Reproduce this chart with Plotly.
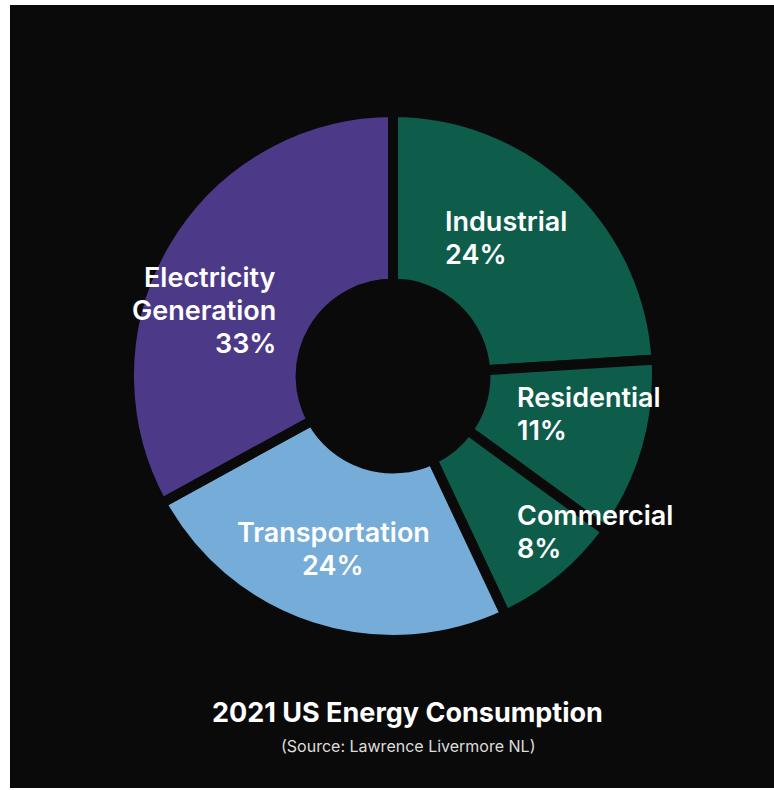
import plotly.graph_objects as go

# ---- data ----
categories = ["Industrial", "Residential", "Commercial", "Transportation", "Electricity Generation"]
shares = [24, 11, 8, 24, 33]
colors = ["#0e5c4a", "#0e5c4a", "#0e5c4a", "#76acd8", "#4c3a89"]
title_text = "2021 US Energy Consumption"
source_text = "(Source: Lawrence Livermore NL)"

W, H = 774, 790
BG = "#0a0a0a"

def px(x):
    return x / W

def py(y):
    return 1 - y / H

# pie geometry (pixels)
cx, cy, R = 393, 376, 264

fig = go.Figure()
fig.add_trace(go.Pie(
    labels=categories,
    values=shares,
    sort=False,
    direction="clockwise",
    rotation=0,
    hole=0.35,
    marker=dict(colors=colors, line=dict(color=BG, width=10)),
    textinfo="none",
    hoverinfo="label+percent",
    showlegend=False,
    domain=dict(x=[px(cx - R), px(cx + R)], y=[py(cy + R), py(cy - R)]),
))

FONT = "Inter, Liberation Sans, sans-serif"
label_font = dict(family=FONT, size=27, color="white", weight=600)
LINE_STEP = 33
CAP_HALF = 8

# label placement (pixels): x, first baseline y, anchor/align
placement = {
    "Industrial": (443, 230, "left"),
    "Residential": (515, 405, "left"),
    "Commercial": (515, 523, "left"),
    "Transportation": (333, 540, "center"),
    "Electricity Generation": (278, 285, "right"),
}

annotations = []
for cat, val in zip(categories, shares):
    x, y0, anc = placement[cat]
    lines = cat.split(" ") + [f"{val}%"]
    for i, line in enumerate(lines):
        annotations.append(dict(
            text=line,
            x=px(x), y=py(y0 + i * LINE_STEP - CAP_HALF), xref="paper", yref="paper",
            xanchor=anc, yanchor="middle", align=anc,
            showarrow=False, font=label_font,
        ))

annotations.append(dict(
    text=title_text, x=px(407), y=py(712), xref="paper", yref="paper",
    xanchor="center", yanchor="middle", showarrow=False,
    font=dict(family=FONT, size=27, color="white", weight=700),
))
annotations.append(dict(
    text=source_text, x=px(408), y=py(746), xref="paper", yref="paper",
    xanchor="center", yanchor="middle", showarrow=False,
    font=dict(family=FONT, size=16, color="#dddddd"),
))

fig.update_layout(
    width=W, height=H,
    margin=dict(l=0, r=0, t=0, b=0),
    paper_bgcolor="white",
    plot_bgcolor=BG,
    shapes=[dict(type="rect", xref="paper", yref="paper",
                 x0=px(10), x1=1.0, y0=py(788), y1=py(5),
                 fillcolor=BG, line=dict(width=0), layer="below")],
    annotations=annotations,
)

fig.write_html("out.html")
